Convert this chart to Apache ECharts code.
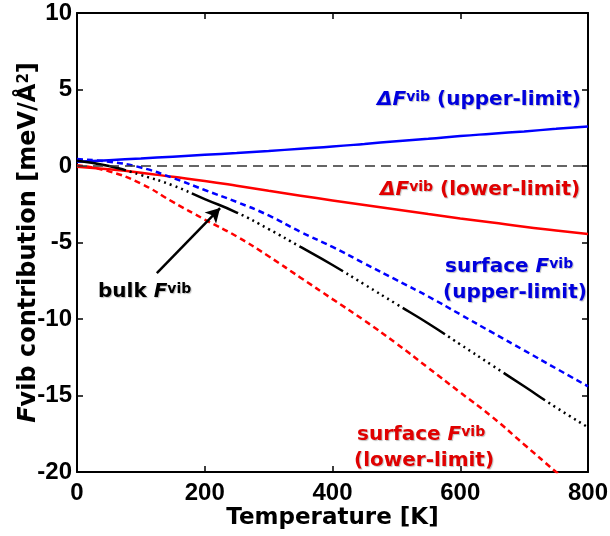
<!DOCTYPE html>
<html lang="en">
<head>
    <meta charset="UTF-8">
    <title>Fvib contribution</title>
    <style>
        html, body { margin: 0; padding: 0; background: #fff; }
    </style>
</head>
<body>
<div id="main" style="width:610px; height: 536px"></div>

<script src="https://cdn.jsdelivr.net/npm/echarts@6/dist/echarts.min.js"></script>
<script>
    // temperatures [K]
    var temps = [0, 50, 100, 150, 200, 250, 300, 350, 400, 450, 500, 550, 600, 650, 700, 750, 800];
    // values in meV/A^2
    var dUpper   = [0.27, 0.38, 0.49, 0.61, 0.73, 0.85, 0.98, 1.13, 1.27, 1.44, 1.62, 1.78, 1.96, 2.11, 2.26, 2.43, 2.58];
    var dLower   = [-0.05, -0.22, -0.44, -0.71, -0.98, -1.29, -1.62, -1.94, -2.25, -2.55, -2.84, -3.14, -3.43, -3.7, -3.97, -4.21, -4.45];
    var surfUp   = [0.45, 0.28, -0.1, -0.78, -1.57, -2.35, -3.23, -4.31, -5.29, -6.37, -7.45, -8.53, -9.7, -10.88, -12.05, -13.23, -14.4];
    var surfLow  = [0.05, -0.35, -1.15, -2.35, -3.5, -4.6, -5.9, -7.3, -8.7, -10.1, -11.6, -13.2, -14.8, -16.4, -18.2, -20.0, -21.8];
    var bulk     = [0.35, 0.0, -0.59, -1.27, -2.16, -3.04, -4.12, -5.29, -6.47, -7.74, -9.02, -10.29, -11.66, -13.03, -14.4, -15.78, -17.08];
    // arrow from the "bulk" label to the curve
    var arrowFrom = [125, -7.0];
    var arrowTo = [224, -2.75];

    function pairs(ys) {
        return temps.map(function (t, i) { return [t, ys[i]]; });
    }

    var FONT = 'DejaVu Sans';
    var TICKFONT = 'Liberation Sans';
    var BLUE = '#0000ff', RED = '#ff0000';

    // dash-dot-dot pattern for the bulk curve
    var bulkDash = [50];
    for (var k = 0; k < 11; k++) { bulkDash.push(4, 2); }
    bulkDash.push(4);

    function richFor(color) {
        return {
            t: { fontFamily: FONT, fontWeight: 'bold', fontSize: 20, fill: color, color: color },
            f: { fontFamily: FONT, fontWeight: 'bold', fontStyle: 'italic', fontSize: 20, fill: color, color: color },
            v: { fontFamily: FONT, fontWeight: 'bold', fontSize: 14, fill: color, color: color, verticalAlign: 'top', padding: [0, 0, 6, 0] }
        };
    }
    function note(x, y, txt, color) {
        return {
            type: 'text', x: x, y: y, silent: true,
            style: {
                text: txt, rich: richFor(color), fill: color,
                align: 'left', verticalAlign: 'middle',
                textShadowColor: 'rgba(0,0,0,0.25)', textShadowBlur: 1, textShadowOffsetX: 1, textShadowOffsetY: 1
            }
        };
    }

    var tickStyle = { inside: true, length: 6, lineStyle: { color: '#000', width: 1.5 } };
    var lineBlack = { show: true, onZero: false, lineStyle: { color: '#000', width: 2 } };

    var myChart = echarts.init(document.getElementById('main'));
    var option = {
        animation: false,
        grid: { left: 77, right: 22, top: 13, bottom: 64, outerBoundsMode: 'none', containLabel: false },
        xAxis: [{
            type: 'value', min: 0, max: 800, interval: 200,
            name: 'Temperature [K]', nameLocation: 'middle', nameGap: 35, nameMoveOverlap: false,
            nameTextStyle: { fontFamily: FONT, fontWeight: 'bold', fontSize: 23, color: '#000' },
            axisLine: lineBlack, axisTick: tickStyle,
            axisLabel: { fontFamily: TICKFONT, fontWeight: 'bold', fontSize: 24, color: '#000', margin: 9 },
            splitLine: { show: false }
        }, {
            type: 'value', position: 'top', min: 0, max: 800, interval: 200,
            axisLine: lineBlack, axisTick: tickStyle,
            axisLabel: { show: false }, splitLine: { show: false }
        }],
        yAxis: [{
            type: 'value', min: -20, max: 10, interval: 5,
            name: '{f|F}{t|vib contribution [meV/Å}{s|2}{t|]}', nameLocation: 'middle', nameGap: 36, nameMoveOverlap: false,
            nameTextStyle: {
                color: '#000',
                rich: {
                    t: { fontFamily: FONT, fontWeight: 'bold', fontSize: 24, color: '#000' },
                    f: { fontFamily: FONT, fontWeight: 'bold', fontStyle: 'italic', fontSize: 24, color: '#000' },
                    s: { fontFamily: FONT, fontWeight: 'bold', fontSize: 15, color: '#000', verticalAlign: 'top', padding: [0, 0, 8, 0] }
                }
            },
            axisLine: lineBlack, axisTick: tickStyle,
            axisLabel: { fontFamily: TICKFONT, fontWeight: 'bold', fontSize: 24, color: '#000', margin: 5 },
            splitLine: { show: false }
        }, {
            type: 'value', position: 'right', min: -20, max: 10, interval: 5,
            axisLine: lineBlack, axisTick: tickStyle,
            axisLabel: { show: false }, splitLine: { show: false }
        }],
        series: [{
            name: 'dF upper', type: 'line', data: pairs(dUpper), smooth: true, showSymbol: false,
            lineStyle: { color: BLUE, width: 2.5 }, z: 3,
            markLine: {
                silent: true, symbol: ['none', 'none'], label: { show: false },
                lineStyle: { color: '#333', width: 1.5, type: [10, 6] },
                data: [{ yAxis: 0 }]
            }
        }, {
            name: 'dF lower', type: 'line', data: pairs(dLower), smooth: true, showSymbol: false,
            lineStyle: { color: RED, width: 2.5 }, z: 3
        }, {
            name: 'surface upper', type: 'line', data: pairs(surfUp), smooth: true, showSymbol: false,
            lineStyle: { color: BLUE, width: 2.5, type: [6, 4] }, z: 3
        }, {
            name: 'surface lower', type: 'line', data: pairs(surfLow), smooth: true, showSymbol: false,
            lineStyle: { color: RED, width: 2.5, type: [6, 4] }, z: 3
        }, {
            name: 'bulk', type: 'line', data: pairs(bulk), smooth: true, showSymbol: false,
            lineStyle: { color: '#000', width: 2.5, type: bulkDash }, z: 3,
            markLine: {
                silent: true, symbol: ['none', 'arrow'], symbolSize: [12, 14], label: { show: false },
                lineStyle: { color: '#000', width: 2.5, type: 'solid' },
                data: [[{ coord: arrowFrom }, { coord: arrowTo }]]
            }
        }],
        graphic: [
            note(377, 100, '{f|ΔF}{v|vib}{t| (upper-limit)}', '#0000dd'),
            note(380, 190, '{f|ΔF}{v|vib}{t| (lower-limit)}', '#e00000'),
            note(445, 267, '{t|surface }{f|F}{v|vib}', '#0000dd'),
            note(443, 293, '{t|(upper-limit)}', '#0000dd'),
            note(357, 435, '{t|surface }{f|F}{v|vib}', '#e00000'),
            note(354, 461, '{t|(lower-limit)}', '#e00000'),
            note(98, 292, '{t|bulk }{f|F}{v|vib}', '#000000')
        ]
    };
    myChart.setOption(option);
</script>
</body>
</html>
